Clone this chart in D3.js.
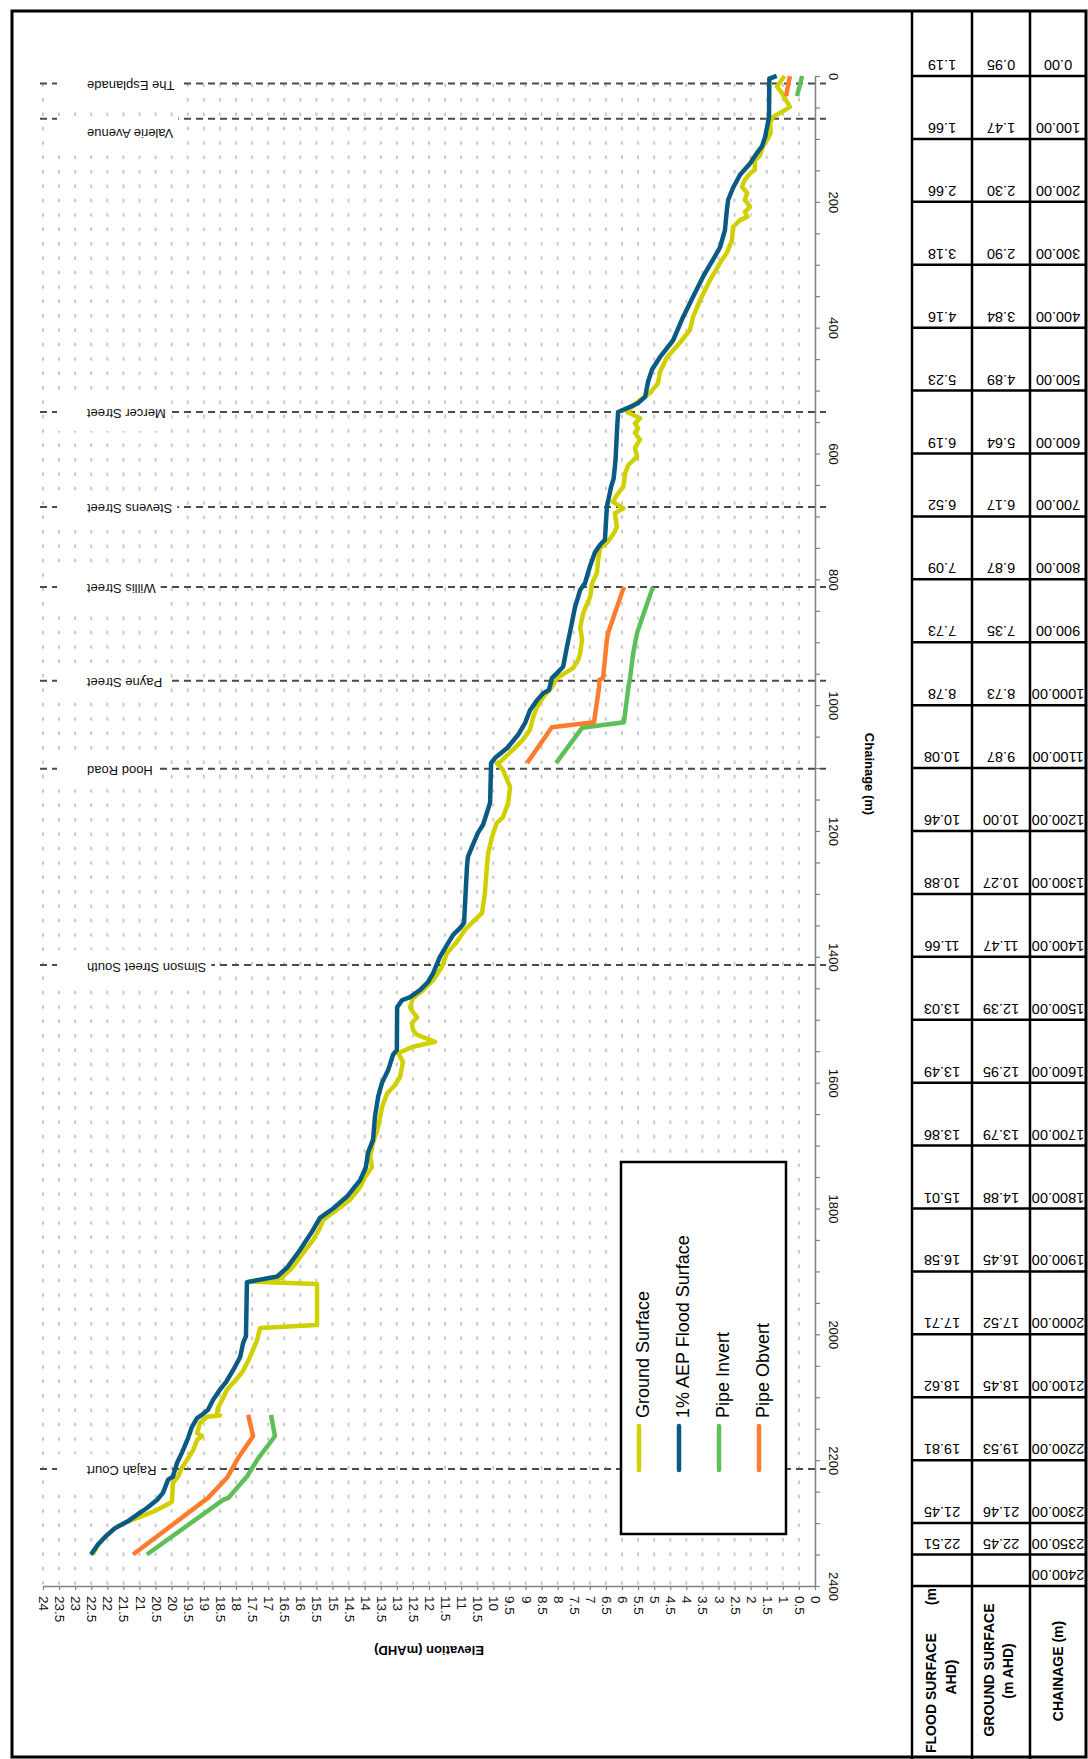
<!DOCTYPE html>
<html>
<head>
<meta charset="utf-8">
<script src="https://cdn.jsdelivr.net/npm/d3@7"></script>
<style>
  body { margin: 0; background: #fff; }
  svg { display: block; font-family: Arial, "Liberation Sans", sans-serif; }
</style>
</head>
<body>
<svg id="chart" width="1088" height="1759"></svg>
<script>
// long section data: [chainage (m), elevation (m AHD)]
const groundSurface = [
  [0,0.95],[17,1.18],[27,1.03],[41,0.87],[49,0.78],[57,1.03],[65,1.3],[75,1.4],[89,1.37],[99,1.46],
  [112,1.62],[126,1.71],[134,1.87],[149,1.87],[155,2.02],[165,2.18],[176,2.27],[186,2.11],[197,2.18],
  [208,2.02],[216,2.18],[224,2.11],[229,2.33],[240,2.55],[261,2.58],[281,2.74],[297,2.95],[324,3.26],
  [356,3.57],[383,3.79],[404,3.89],[424,4.2],[447,4.6],[470,4.82],[488,4.88],[504,5.13],[515,5.44],
  [526,5.69],[534,5.84],[544,5.44],[552,5.6],[560,5.5],[567,5.6],[578,5.44],[591,5.6],[605,5.53],
  [618,5.8],[631,5.9],[653,5.96],[666,6.16],[677,6.28],[687,5.96],[695,6.22],[717,6.16],[729,6.28],
  [742,6.47],[750,6.68],[769,6.74],[790,6.78],[806,6.93],[828,6.99],[853,7.2],[876,7.3],[896,7.24],
  [917,7.3],[928,7.36],[941,7.52],[947,7.71],[957,8.02],[971,8.18],[987,8.45],[1003,8.64],[1019,8.76],
  [1039,8.86],[1055,9.08],[1071,9.39],[1090,9.79],[1092,9.89],[1103,9.7],[1119,9.57],[1130,9.48],
  [1155,9.54],[1178,9.7],[1187,9.89],[1209,10.04],[1235,10.16],[1257,10.2],[1298,10.26],[1330,10.35],
  [1344,10.63],[1357,10.88],[1376,11.13],[1394,11.44],[1416,11.6],[1437,11.87],[1453,12.19],[1466,12.5],
  [1480,12.59],[1488,12.5],[1496,12.37],[1505,12.53],[1516,12.5],[1524,12.37],[1535,11.81],[1543,12.5],
  [1553,12.96],[1567,12.81],[1591,12.9],[1604,13.06],[1617,13.3],[1639,13.46],[1670,13.58],[1696,13.74],
  [1718,13.83],[1734,13.77],[1750,13.99],[1766,14.14],[1786,14.45],[1802,14.86],[1818,15.29],[1831,15.39],
  [1850,15.6],[1871,15.92],[1893,16.23],[1910,16.57],[1916,17.6],[1920,15.48],[1985,15.48],[1990,17.25],
  [2010,17.35],[2040,17.6],[2060,17.8],[2075,18.05],[2088,18.28],[2104,18.43],[2117,18.56],
  [2126,18.59],[2129,18.5],[2131,18.9],[2141,19.12],[2157,19.21],[2162,19.06],[2168,19.21],[2184,19.33],
  [2197,19.49],[2212,19.68],[2226,19.8],[2236,19.96],[2266,19.99],[2274,20.27],[2282,20.58],[2290,20.98],
  [2298,21.39],[2308,21.76],[2322,22.07],[2334,22.29],[2350,22.45]
];

const floodSurface = [
  [0,1.19],[4,1.42],[65,1.43],[97,1.55],[112,1.65],[122,1.8],[139,2.02],[157,2.33],[178,2.55],[197,2.7],
  [213,2.74],[245,2.8],[272,2.95],[292,3.17],[319,3.48],[351,3.79],[383,4.1],[420,4.41],[447,4.82],
  [467,5.07],[486,5.19],[510,5.28],[520,5.5],[528,5.84],[534,6.12],[558,6.15],[610,6.2],[640,6.26],
  [653,6.34],[685,6.47],[737,6.53],[745,6.68],[757,6.84],[780,7.0],[806,7.15],[817,7.3],[844,7.46],
  [880,7.6],[907,7.71],[939,7.83],[949,8.02],[957,8.18],[976,8.27],[981,8.45],[992,8.64],[1008,8.86],
  [1028,9.01],[1047,9.23],[1068,9.57],[1084,9.95],[1092,10.07],[1155,10.1],[1171,10.2],[1190,10.32],
  [1203,10.48],[1225,10.66],[1241,10.79],[1257,10.82],[1346,10.91],[1354,11.03],[1365,11.25],[1381,11.44],
  [1400,11.66],[1426,11.87],[1440,12.03],[1453,12.28],[1464,12.59],[1469,12.84],[1480,12.99],[1548,13.0],
  [1556,13.12],[1580,13.27],[1600,13.46],[1622,13.58],[1654,13.68],[1691,13.74],[1712,13.9],[1734,13.96],
  [1755,14.14],[1781,14.55],[1800,14.98],[1815,15.39],[1837,15.64],[1866,16.01],[1894,16.41],[1908,16.72],
  [1917,17.66],[2003,17.69],[2014,17.78],[2036,17.87],[2057,18.09],[2075,18.3],[2088,18.5],[2104,18.71],
  [2120,18.87],[2128,19.06],[2133,19.21],[2147,19.37],[2165,19.49],[2188,19.68],[2204,19.83],[2226,19.96],
  [2231,20.11],[2252,20.27],[2263,20.45],[2276,20.77],[2287,21.08],[2298,21.39],[2308,21.76],[2322,22.07],
  [2334,22.29],[2350,22.51]
];

// pipe reaches (separate segments)
const pipeInvert = [
  [[0,0.4],[32,0.56]],
  [[812,5.04],[885,5.53],[917,5.65],[957,5.75],[971,5.8],[1027,5.94],[1036,7.24],[1092,8.05]],
  [[2128,16.91],[2162,16.79],[2197,17.31],[2226,17.66],[2260,18.24],[2263,18.4],[2350,20.77]]
];
const pipeObvert = [
  [[0,0.78],[32,0.9]],
  [[812,5.94],[885,6.43],[896,6.47],[957,6.59],[960,6.71],[971,6.71],[1027,6.87],[1035,8.18],[1092,8.95]],
  [[2128,17.62],[2162,17.47],[2197,17.94],[2228,18.28],[2260,18.87],[2350,21.2]]
];

const streetNames = ["The Esplanade","Valerie Avenue","Mercer Street","Stevens Street","Willis Street",
  "Payne Street","Hood Road","Simson Street South","Rajah Court"];
const streetChainage = [12, 68, 534, 685, 812, 961, 1101, 1413, 2214];

// table under the section
const tableChainage = ["0.00","100.00","200.00","300.00","400.00","500.00","600.00","700.00","800.00",
  "900.00","1000.00","1100.00","1200.00","1300.00","1400.00","1500.00","1600.00","1700.00","1800.00",
  "1900.00","2000.00","2100.00","2200.00","2300.00","2350.00","2400.00"];
const tableGround = ["0.95","1.47","2.30","2.90","3.84","4.89","5.64","6.17","6.87","7.35","8.73","9.87",
  "10.00","10.27","11.47","12.39","12.95","13.79","14.88","16.45","17.52","18.45","19.53","21.46","22.45",""];
const tableFlood = ["1.19","1.66","2.66","3.18","4.16","5.23","6.19","6.52","7.09","7.73","8.78","10.08",
  "10.46","10.88","11.66","13.03","13.49","13.86","15.01","16.58","17.71","18.62","19.81","21.45","22.51",""];

const seriesNames = ["Ground Surface","1% AEP Flood Surface","Pipe Invert","Pipe Obvert"];
const seriesColors = ["#d0d000","#0b5a84","#5cbf58","#ff7b2e"];

const elevationTicks = d3.range(0, 24.01, 0.5);
const chainageTicks = d3.range(0, 2401, 50);

let svg = d3.select("#chart");

let x = d3.scaleLinear().domain([0, 24]).range([815, 43]); // elevation runs right to left
let y = d3.scaleLinear().domain([0, 2400]).range([76, 1586]); // chainage runs down

// dotted grid
svg.append("g")
    .selectAll("line")
    .data(elevationTicks.filter(d => d > 0))
    .join("line")
    .attr("x1", d => x(d)).attr("x2", d => x(d))
    .attr("y1", y(0)).attr("y2", y(2400))
    .attr("stroke", "#cdc8c4")
    .attr("stroke-width", 2)
    .attr("stroke-dasharray", "3.5,10.9")
    .attr("stroke-dashoffset", 6.8);

// street markers
let streetG = svg.append("g");
streetNames.forEach((name, i) => {
    let yy = y(streetChainage[i]);
    streetG.append("line")
        .attr("x1", 40).attr("x2", 826)
        .attr("y1", yy).attr("y2", yy)
        .attr("stroke", "#4a4a4a")
        .attr("stroke-width", 2)
        .attr("stroke-dasharray", "7,5");
});
streetNames.forEach((name, i) => {
    let yy = y(streetChainage[i]);
    // push the label down if it crowds the previous one
    if (i > 0 && yy - y(streetChainage[i - 1]) < 40) yy += 15;
    else yy += 2;
    let box = streetG.append("rect").attr("fill", "#fff");
    let t = streetG.append("text")
        .attr("x", 87).attr("y", yy)
        .attr("transform", `rotate(180,87,${yy})`)
        .attr("text-anchor", "end")
        .attr("dominant-baseline", "central")
        .attr("font-size", 13)
        .attr("fill", "#111")
        .text(name);
    let len = t.node().getComputedTextLength();
    box.attr("x", 57).attr("y", yy - 17).attr("width", 30 + len + 5).attr("height", 34);
});

// axes
let chainageAxis = d3.axisRight(y)
    .tickValues(chainageTicks)
    .tickSize(5)
    .tickSizeOuter(0)
    .tickFormat(d => d % 200 === 0 ? d : "");
let gy = svg.append("g").attr("transform", "translate(815,0)").call(chainageAxis);
gy.selectAll("text")
    .attr("x", 0).attr("dy", null)
    .attr("transform", "translate(18,0) rotate(90)")
    .attr("text-anchor", "middle")
    .attr("dominant-baseline", "central")
    .attr("font-size", 13)
    .attr("fill", "#111");

let elevationAxis = d3.axisBottom(x)
    .tickValues(elevationTicks)
    .tickSize(4)
    .tickSizeOuter(0)
    .tickFormat(d => String(d));
let gx = svg.append("g").attr("transform", `translate(0,${y(2400)})`).call(elevationAxis);
gx.selectAll("text")
    .attr("y", 0).attr("dy", null)
    .attr("transform", "translate(0,10) rotate(90)")
    .attr("text-anchor", "start")
    .attr("dominant-baseline", "central")
    .attr("font-size", 13.5)
    .attr("fill", "#111");

[gx, gy].forEach(g => {
    g.attr("font-family", null);
    g.select(".domain").attr("stroke", "#808080").attr("stroke-width", 1.5);
    g.selectAll(".tick line").attr("stroke", "#808080").attr("stroke-width", 1.2);
});

svg.append("text")
    .attr("x", 429).attr("y", 1650)
    .attr("transform", "rotate(180,429,1650)")
    .attr("text-anchor", "middle")
    .attr("dominant-baseline", "central")
    .attr("font-size", 13).attr("font-weight", "bold")
    .text("Elevation (mAHD)");

svg.append("text")
    .attr("x", 869).attr("y", 774)
    .attr("transform", "rotate(90,869,774)")
    .attr("text-anchor", "middle")
    .attr("dominant-baseline", "central")
    .attr("font-size", 13).attr("font-weight", "bold")
    .text("Chainage (m)");

// series lines
let line = d3.line().x(d => x(d[1])).y(d => y(d[0]));
let allSeries = [[groundSurface], [floodSurface], pipeInvert, pipeObvert];
allSeries.forEach((segments, i) => {
    svg.append("g")
        .selectAll("path")
        .data(segments)
        .join("path")
        .attr("d", line)
        .attr("fill", "none")
        .attr("stroke", seriesColors[i])
        .attr("stroke-width", 4.5)
        .attr("stroke-linejoin", "round");
});

// legend
let legend = svg.append("g");
legend.append("rect")
    .attr("x", 621).attr("y", 1162)
    .attr("width", 165).attr("height", 372)
    .attr("fill", "#fff")
    .attr("stroke", "#000")
    .attr("stroke-width", 2.5);
seriesNames.forEach((name, i) => {
    let lx = 639 + i * 40;
    legend.append("line")
        .attr("x1", lx).attr("x2", lx)
        .attr("y1", 1426).attr("y2", 1470)
        .attr("stroke", seriesColors[i])
        .attr("stroke-width", 4.5)
        .attr("stroke-linecap", "round");
    legend.append("text")
        .attr("x", lx + 4).attr("y", 1418)
        .attr("transform", `rotate(-90,${lx + 4},1418)`)
        .attr("dominant-baseline", "central")
        .attr("font-size", 18)
        .text(name);
});

// data table
let table = svg.append("g");
let colX = [912, 972, 1030, 1086];
let rowBottoms = tableChainage.map(d => y(+d));
let columns = [tableFlood, tableGround, tableChainage];

rowBottoms.forEach(b => {
    table.append("line")
        .attr("x1", colX[0]).attr("x2", colX[3])
        .attr("y1", b).attr("y2", b)
        .attr("stroke", "#000").attr("stroke-width", 2.5);
});
colX.slice(0, 3).forEach(cx => {
    table.append("line")
        .attr("x1", cx).attr("x2", cx)
        .attr("y1", 11).attr("y2", 1759)
        .attr("stroke", "#000").attr("stroke-width", 2.5);
});
columns.forEach((vals, c) => {
    let mid = (colX[c] + colX[c + 1]) / 2;
    vals.forEach((v, r) => {
        let ty = rowBottoms[r] - 11;
        table.append("text")
            .attr("x", mid).attr("y", ty)
            .attr("transform", `rotate(180,${mid},${ty})`)
            .attr("text-anchor", "middle")
            .attr("dominant-baseline", "central")
            .attr("font-size", 14.5)
            .text(v);
    });
});

// header cells (read bottom to top)
function headerText(tx, ty, str, anchor) {
    table.append("text")
        .attr("x", tx).attr("y", ty)
        .attr("transform", `rotate(-90,${tx},${ty})`)
        .attr("text-anchor", anchor)
        .attr("dominant-baseline", "central")
        .attr("font-size", 14).attr("font-weight", "bold")
        .text(str);
}
headerText(931, 1753, "FLOOD SURFACE", "start");
headerText(931, 1588, "(m", "end");
headerText(951, 1677, "AHD)", "middle");
headerText(989, 1670, "GROUND SURFACE", "middle");
headerText(1008, 1671, "(m AHD)", "middle");
headerText(1058, 1671, "CHAINAGE (m)", "middle");

// outer frame
svg.append("rect")
    .attr("x", 12).attr("y", 11)
    .attr("width", 1074).attr("height", 1746)
    .attr("fill", "none")
    .attr("stroke", "#000")
    .attr("stroke-width", 3);
</script>
</body>
</html>
